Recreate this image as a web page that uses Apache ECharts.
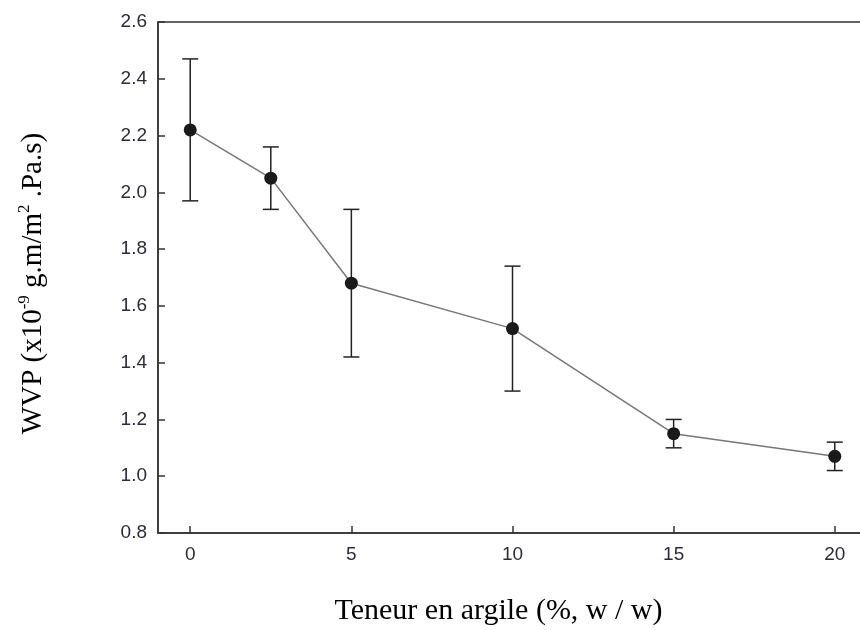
<!DOCTYPE html>
<html>
<head>
<meta charset="utf-8">
<script src="https://cdn.jsdelivr.net/npm/echarts@6/dist/echarts.min.js"></script>
<style>html,body{margin:0;padding:0;background:#fff}#c{width:860px;height:630px}</style>
</head>
<body>
<div id="c"></div>
<script>
const clay = [0, 2.5, 5, 10, 15, 20];
const wvp = [2.22, 2.05, 1.68, 1.52, 1.15, 1.07];
const wvpLow = [1.97, 1.94, 1.42, 1.30, 1.10, 1.02];
const wvpHigh = [2.47, 2.16, 1.94, 1.74, 1.20, 1.12];
const xTicks = [0, 5, 10, 15, 20];

const chart = echarts.init(document.getElementById('c'));
const lineData = clay.map((x, i) => [x, wvp[i]]);
const errData = clay.map((x, i) => [x, wvpLow[i], wvpHigh[i]]);
const axisColor = '#333';
const labelStyle = {fontFamily: 'Liberation Sans', fontSize: 19, color: '#2b2b3a'};

chart.setOption({
  animation: false,
  backgroundColor: '#fff',
  grid: {left: 158, top: 22, width: 709, height: 511, outerBoundsMode: 'none', containLabel: false, show: true, borderColor: axisColor, borderWidth: 1.5, backgroundColor: 'transparent'},
  xAxis: {
    type: 'value', min: -1, max: 21,
    splitLine: {show: false},
    axisLine: {onZero: false, lineStyle: {color: axisColor, width: 1.5}},
    axisTick: {inside: true, length: 7, customValues: xTicks, lineStyle: {color: axisColor, width: 1.5}},
    axisLabel: Object.assign({margin: 12, customValues: xTicks}, labelStyle),
    name: 'Teneur en argile (%, w / w)',
    nameLocation: 'middle', nameGap: 63,
    nameTextStyle: {fontFamily: 'Liberation Serif', fontSize: 30, color: '#000', padding: [0, 28, 0, 0]}
  },
  yAxis: {
    type: 'value', min: 0.8, max: 2.6, interval: 0.2,
    splitLine: {show: false},
    axisLine: {onZero: false, lineStyle: {color: axisColor, width: 1.5}},
    axisTick: {inside: true, length: 7, lineStyle: {color: axisColor, width: 1.5}},
    axisLabel: Object.assign({margin: 11, formatter: v => v.toFixed(1)}, labelStyle),
    name: '{n|WVP (x10}{s|-9}{n| g.m/m}{s|2}{n| .Pa.s)}',
    nameLocation: 'middle', nameGap: 110, nameRotate: 90,
    nameTextStyle: {
      color: '#000',
      padding: [0, 12, 0, 0],
      rich: {
        n: {fontFamily: 'Liberation Serif', fontSize: 29, color: '#000', lineHeight: 32, verticalAlign: 'bottom'},
        s: {fontFamily: 'Liberation Serif', fontSize: 17, color: '#000', lineHeight: 32, verticalAlign: 'top'}
      }
    }
  },
  series: [
    {
      type: 'custom', z: 2,
      data: errData,
      encode: {x: 0, y: [1, 2]},
      renderItem: function (params, api) {
        const x = api.value(0);
        const lo = api.coord([x, api.value(1)]);
        const hi = api.coord([x, api.value(2)]);
        const w = 8;
        const st = {stroke: '#222', lineWidth: 1.5, fill: null};
        return {type: 'group', children: [
          {type: 'line', shape: {x1: lo[0], y1: lo[1], x2: hi[0], y2: hi[1]}, style: st},
          {type: 'line', shape: {x1: lo[0] - w, y1: lo[1], x2: lo[0] + w, y2: lo[1]}, style: st},
          {type: 'line', shape: {x1: hi[0] - w, y1: hi[1], x2: hi[0] + w, y2: hi[1]}, style: st}
        ]};
      }
    },
    {
      type: 'line', z: 3,
      data: lineData,
      symbol: 'circle', symbolSize: 13,
      lineStyle: {color: '#777', width: 1.5},
      itemStyle: {color: '#1a1a1a', borderWidth: 0}
    }
  ]
});
</script>
</body>
</html>
